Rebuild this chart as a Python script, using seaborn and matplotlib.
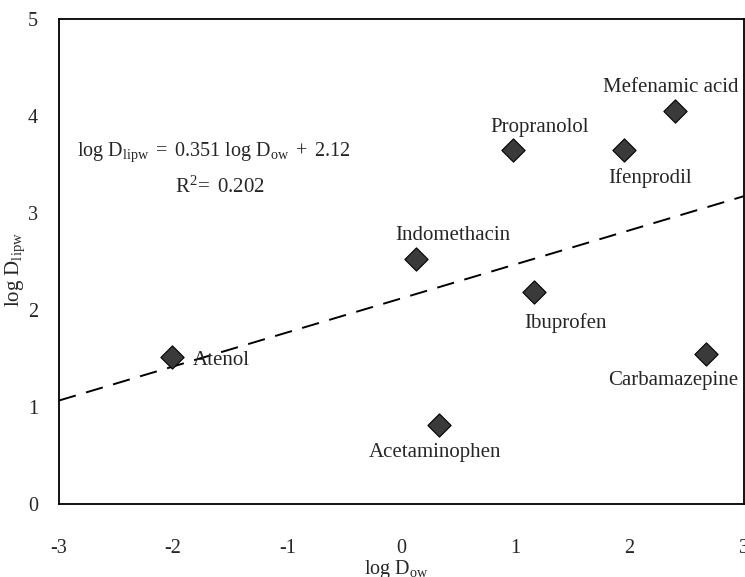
import numpy as np
import pandas as pd
import matplotlib
matplotlib.use("Agg")
import matplotlib.pyplot as plt
import seaborn as sns

# Compounds and their partition coefficients
compounds = ["Atenol", "Acetaminophen", "Indomethacin", "Ibuprofen",
             "Propranolol", "Ifenprodil", "Mefenamic acid", "Carbamazepine"]
log_dow = [-2.01, 0.33, 0.13, 1.16, 0.98, 1.95, 2.40, 2.67]
log_dlipw = [1.52, 0.81, 2.53, 2.19, 3.65, 3.65, 4.05, 1.55]

# Linear fit reported on the chart
fit_slope = 0.351
fit_intercept = 2.12
fit_r2 = 0.202

x_ticks = [-3, -2, -1, 0, 1, 2, 3]
y_ticks = [0, 1, 2, 3, 4, 5]

df = pd.DataFrame({"compound": compounds, "log_dow": log_dow, "log_dlipw": log_dlipw})

sns.set_style("white")
plt.rcParams["font.family"] = ["Liberation Serif", "DejaVu Serif"]
plt.rcParams["mathtext.fontset"] = "custom"
plt.rcParams["mathtext.rm"] = "Liberation Serif"
plt.rcParams["mathtext.it"] = "Liberation Serif:italic"
plt.rcParams["axes.unicode_minus"] = False

fig = plt.figure(figsize=(7.45, 5.77), dpi=100)
ax = fig.add_axes([0.0792, 0.1265, 0.919, 0.8405])

# Regression line across the full x range
xl = np.array([x_ticks[0], x_ticks[-1]], dtype=float)
ax.plot(xl, fit_slope * xl + fit_intercept, color="black", lw=1.4,
        dashes=(9, 5.5), zorder=2)

sns.scatterplot(data=df, x="log_dow", y="log_dlipw", ax=ax, marker="D",
                s=140, color="#3a3a3a", edgecolor="black", linewidth=0.8,
                zorder=3, legend=False)

# Label placement (pixel offsets from each marker)
label_offsets = {
    "Atenol": (21, -4, "left"),
    "Acetaminophen": (-4, -27, "center"),
    "Indomethacin": (37, 23, "center"),
    "Ibuprofen": (32, -31, "center"),
    "Propranolol": (26, 22, "center"),
    "Ifenprodil": (26, -28, "center"),
    "Mefenamic acid": (-4, 24, "center"),
    "Carbamazepine": (-33, -27, "center"),
}
for name, x, y in zip(compounds, log_dow, log_dlipw):
    dx, dy, ha = label_offsets[name]
    ax.annotate(name, (x, y), xytext=(dx, dy), textcoords="offset pixels",
                ha=ha, va="center", fontsize=15, annotation_clip=False)

ax.text(0.226, 0.726,
        r"$\mathregular{log\ D_{lipw}\ =\ %.3f\ log\ D_{ow}\ +\ %.2f}$" % (fit_slope, fit_intercept),
        transform=ax.transAxes, ha="center", va="center", fontsize=14.5)
ax.text(0.235, 0.653, r"$\mathregular{R^{2}\!=\ %.3f}$" % fit_r2,
        transform=ax.transAxes, ha="center", va="center", fontsize=15)

ax.set_xlim(x_ticks[0], x_ticks[-1])
ax.set_ylim(y_ticks[0], y_ticks[-1])
ax.set_xticks(x_ticks)
ax.set_yticks(y_ticks)
ax.tick_params(axis="x", length=0, pad=25, labelsize=14.5)
ax.tick_params(axis="y", length=0, pad=15, labelsize=14.5)
ax.set_xlabel("")
ax.set_ylabel("")

# Axis titles
fig.text(396 / 745, 1 - 574 / 577, r"$\mathregular{log\ D_{ow}}$",
         ha="center", va="baseline", fontsize=14.5)
fig.text(15 / 745, 1 - 270 / 577, r"$\mathregular{log\ D_{lipw}}$",
         ha="center", va="center", rotation=90, fontsize=15)

for sp in ax.spines.values():
    sp.set_visible(True)
    sp.set_color("black")
    sp.set_linewidth(1.3)

fig.savefig("out.png", dpi=100, facecolor="white")
